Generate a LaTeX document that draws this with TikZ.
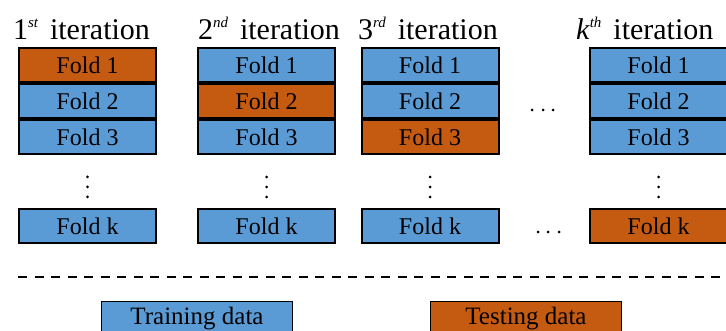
\documentclass[tikz,border=0pt]{standalone}
\usepackage{fontspec}
\setmainfont{Liberation Serif}
\newfontfamily\boxfont{Liberation Serif}
\definecolor{trainblue}{HTML}{5B9BD5}
\definecolor{testorange}{HTML}{C55A11}
\newcommand{\itersup}[1]{\raisebox{12pt}{\fontsize{15}{15}\selectfont\itshape #1}\hspace{12pt}}
\begin{document}
\begin{tikzpicture}
[x=1pt, y=-1pt, line width=2pt,
train/.style={rectangle, draw, fill=trainblue, inner sep=0pt, minimum width=137pt, minimum height=34pt, font=\boxfont\fontsize{24}{28}\selectfont},
test/.style={train, fill=testorange},
iter/.style={anchor=base west, inner sep=0pt, font=\boxfont\fontsize{30}{34}\selectfont},
legend/.style={rectangle, draw, inner sep=0pt, line width=1.5pt, minimum width=191pt, minimum height=34pt, font=\boxfont\fontsize{25}{28}\selectfont}
]
\useasboundingbox (0,0) rectangle (726,331);

\node[iter] (iter1) at (12,40) {1\itersup{st}iteration};
\node[iter] (iter2) at (197,40) {2\itersup{nd}iteration};
\node[iter] (iter3) at (357,40) {3\itersup{rd}iteration};
\node[iter] (iterk) at (575,40) {\textit{k}\itersup{th}iteration};

\node[test]  (c1f1) at (87.5,65) {Fold 1};
\node[train] (c1f2) at (87.5,101) {Fold 2};
\node[train] (c1f3) at (87.5,137) {Fold 3};
\node[train] (c1fk) at (87.5,226.5) {Fold k};

\node[train] (c2f1) at (266.5,65) {Fold 1};
\node[test]  (c2f2) at (266.5,101) {Fold 2};
\node[train] (c2f3) at (266.5,137) {Fold 3};
\node[train] (c2fk) at (266.5,226.5) {Fold k};

\node[train] (c3f1) at (430,65) {Fold 1};
\node[train] (c3f2) at (430,101) {Fold 2};
\node[test]  (c3f3) at (430,137) {Fold 3};
\node[train] (c3fk) at (430,226.5) {Fold k};

\node[train] (ckf1) at (658.5,65) {Fold 1};
\node[train] (ckf2) at (658.5,101) {Fold 2};
\node[train] (ckf3) at (658.5,137) {Fold 3};
\node[test]  (ckfk) at (658.5,226.5) {Fold k};

\foreach \v in {87.5,266.5,430,658.5} {
  \foreach \d in {177,187,197}
    \fill (\v,\d) circle (1.5pt);
}

\foreach \h in {532,543,553} \fill (\h,110) circle (1.5pt);
\foreach \h in {538,548,559} \fill (\h,232) circle (1.5pt);

\draw[dash pattern=on 9pt off 7.5pt, line width=1.5pt] (18,277) -- (726,277);

\node[legend, fill=trainblue]  (trainkey) at (197,318.5) {Training data};
\node[legend, fill=testorange] (testkey)  at (526,318.5) {Testing data};

\end{tikzpicture}
\end{document}
